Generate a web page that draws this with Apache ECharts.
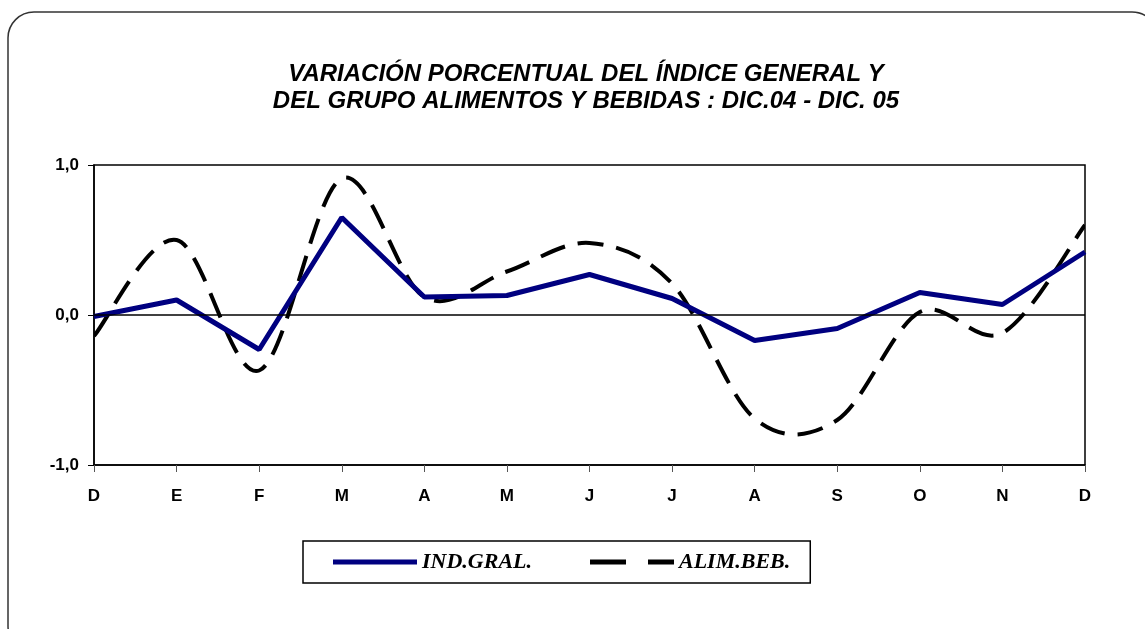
<!DOCTYPE html>
<html lang="es">
<head>
    <meta charset="UTF-8">
    <title>Variación porcentual</title>
    <script src="https://cdn.jsdelivr.net/npm/echarts@6/dist/echarts.min.js"></script>
    <style>
        html, body { margin: 0; padding: 0; background: #fff; }
    </style>
</head>
<body>
<div id="main" style="width: 1145px;height:629px;"></div>
<script type="text/javascript">
    var meses = ['D', 'E', 'F', 'M', 'A', 'M', 'J', 'J', 'A', 'S', 'O', 'N', 'D'];
    var indGral = [-0.01, 0.10, -0.23, 0.65, 0.12, 0.13, 0.27, 0.11, -0.17, -0.09, 0.15, 0.07, 0.42];
    var alimBeb = [-0.14, 0.50, -0.37, 0.91, 0.12, 0.29, 0.48, 0.21, -0.69, -0.70, 0.02, -0.12, 0.60];

    // curva suavizada tipo Excel (Catmull-Rom), puntos tomados de los ejes del grafico
    function renderSuave(params, api) {
        if (params.dataIndex !== 0) return null;
        var pts = alimBeb.map(function (v, i) { return api.coord([i, v]); });
        var n = pts.length;
        var d = 'M' + pts[0][0] + ',' + pts[0][1];
        for (var i = 0; i < n - 1; i++) {
            var p0 = pts[Math.max(i - 1, 0)];
            var p1 = pts[i];
            var p2 = pts[i + 1];
            var p3 = pts[Math.min(i + 2, n - 1)];
            var c1x = p1[0] + (p2[0] - p0[0]) / 6;
            var c1y = p1[1] + (p2[1] - p0[1]) / 6;
            var c2x = p2[0] - (p3[0] - p1[0]) / 6;
            var c2y = p2[1] - (p3[1] - p1[1]) / 6;
            d += ' C' + c1x + ',' + c1y + ' ' + c2x + ',' + c2y + ' ' + p2[0] + ',' + p2[1];
        }
        return {
            type: 'path',
            shape: { pathData: d },
            style: { fill: 'none', stroke: '#000', lineWidth: 4, lineDash: [26, 13] }
        };
    }

    var myChart = echarts.init(document.getElementById('main'));
    myChart.setOption({
        animation: false,
        graphic: [{
            // marco redondeado
            type: 'rect',
            shape: { x: 8, y: 12, width: 1150, height: 640, r: 26 },
            style: { fill: 'none', stroke: '#333', lineWidth: 1.5 },
            z: -1
        }],
        title: {
            text: 'VARIACIÓN PORCENTUAL DEL ÍNDICE GENERAL Y\nDEL GRUPO ALIMENTOS Y BEBIDAS : DIC.04 - DIC. 05',
            left: 581,
            textAlign: 'center',
            top: 56,
            textStyle: {
                fontFamily: 'Liberation Sans, Arial',
                fontSize: 24,
                fontStyle: 'italic',
                fontWeight: 'bold',
                lineHeight: 27,
                color: '#000'
            }
        },
        legend: {
            left: 303,
            top: 541,
            padding: [10, 20, 10, 30],
            itemGap: 58,
            itemWidth: 84,
            itemHeight: 5,
            borderColor: '#000',
            borderWidth: 1.5,
            textStyle: {
                fontFamily: 'Liberation Serif, Times New Roman',
                fontSize: 22,
                fontStyle: 'italic',
                fontWeight: 'bold',
                color: '#000'
            },
            data: [
                { name: 'IND.GRAL.', icon: 'path://M0,0h84v5h-84z', itemStyle: { color: '#000080' } },
                { name: 'ALIM.BEB.', icon: 'path://M0,0h36v5h-36z M58,0h26v5h-26z', itemStyle: { color: '#000' } }
            ]
        },
        grid: {
            left: 94,
            right: 60,
            top: 165,
            bottom: 164,
            show: true,
            borderColor: '#000',
            borderWidth: 1.5
        },
        xAxis: {
            type: 'category',
            data: meses,
            boundaryGap: false,
            axisLine: { onZero: false, lineStyle: { color: '#000', width: 1.5 } },
            axisTick: { show: true, length: 7, lineStyle: { color: '#555' } },
            axisLabel: {
                interval: 0,
                margin: 23,
                fontFamily: 'Liberation Sans, Arial',
                fontSize: 17,
                fontWeight: 'bold',
                color: '#000'
            },
            splitLine: { show: false }
        },
        yAxis: {
            type: 'value',
            min: -1,
            max: 1,
            interval: 1,
            axisLine: { show: true, lineStyle: { color: '#000', width: 1.5 } },
            axisTick: { show: true, length: 6, lineStyle: { color: '#000' } },
            axisLabel: {
                margin: 15,
                fontFamily: 'Liberation Sans, Arial',
                fontSize: 17,
                fontWeight: 'bold',
                color: '#000',
                formatter: function (v) { return v.toFixed(1).replace('.', ','); }
            },
            splitLine: { show: false }
        },
        series: [{
            name: 'IND.GRAL.',
            type: 'line',
            data: indGral,
            symbol: 'none',
            lineStyle: { color: '#000080', width: 5 },
            itemStyle: { color: '#000080' },
            markLine: {
                silent: true,
                symbol: 'none',
                label: { show: false },
                lineStyle: { color: '#000', width: 1.5, type: 'solid' },
                data: [{ yAxis: 0 }]
            }
        }, {
            name: 'ALIM.BEB.',
            type: 'custom',
            data: alimBeb,
            renderItem: renderSuave,
            itemStyle: { color: '#000' },
            clip: true,
            z: 3
        }]
    });
</script>
</body>
</html>
